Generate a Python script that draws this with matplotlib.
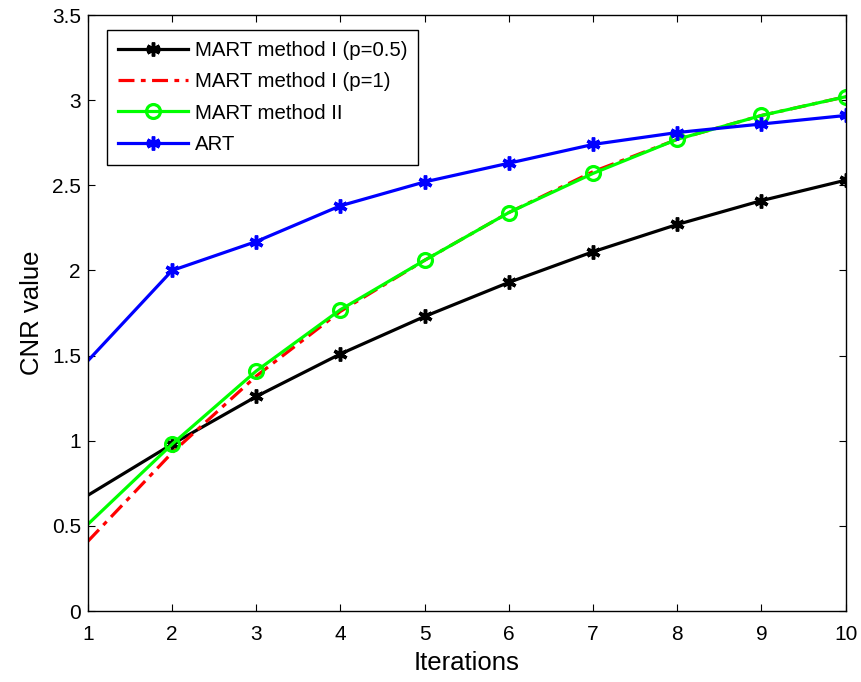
import numpy as np
import matplotlib
matplotlib.use("Agg")
import matplotlib.pyplot as plt

plt.rcParams['font.family'] = ['Liberation Sans', 'DejaVu Sans']

# =========================================================
# DATA
# =========================================================
iterations = [1, 2, 3, 4, 5, 6, 7, 8, 9, 10]

mart_I_p05 = [0.68, 0.98, 1.26, 1.51, 1.73, 1.93, 2.11, 2.27, 2.41, 2.53]
mart_I_p1 = [0.41, 0.93, 1.38, 1.76, 2.06, 2.34, 2.58, 2.77, 2.91, 3.02]
mart_II = [0.51, 0.98, 1.41, 1.77, 2.06, 2.34, 2.57, 2.77, 2.91, 3.02]
art = [1.47, 2.00, 2.17, 2.38, 2.52, 2.63, 2.74, 2.81, 2.86, 2.91]

# =========================================================
# PLOT
# =========================================================
fig = plt.figure(figsize=(8.62, 6.82), dpi=100)
ax = fig.add_axes([0.102, 0.104, 0.879, 0.874])

asterisk = (6, 2, 0)
mk_every = slice(1, None)   # no marker drawn on the axis edge at x=1
ax.plot(iterations, mart_I_p05, color='black', lw=2.3, marker=asterisk,
        ms=10, mew=2.5, markevery=mk_every, label="MART method I (p=0.5)")
ax.plot(iterations, mart_I_p1, color='red', lw=2.3, ls=(0, (5, 2, 1.5, 2)),
        label="MART method I (p=1)")
ax.plot(iterations, mart_II, color='#00ff00', lw=2.3, marker='o', ms=10,
        mfc='none', mew=2.3, markevery=mk_every, label="MART method II")
ax.plot(iterations, art, color='blue', lw=2.3, marker=asterisk,
        ms=10, mew=2.5, markevery=mk_every, label="ART")

ax.set_xlim(1, 10)
ax.set_ylim(0, 3.5)
ax.set_xticks(iterations)
ax.set_yticks(np.arange(0, 3.51, 0.5))
ax.set_yticklabels(["0", "0.5", "1", "1.5", "2", "2.5", "3", "3.5"])
ax.tick_params(direction='in', labelsize=15, length=5, top=True, right=True)
ax.tick_params(axis='x', pad=10)
ax.tick_params(axis='y', pad=5)
for s in ax.spines.values():
    s.set_linewidth(1.0)

ax.set_xlabel("Iterations", fontsize=18.5, labelpad=5)
ax.set_ylabel("CNR value", fontsize=18.5, labelpad=6)

leg = ax.legend(loc='upper left', bbox_to_anchor=(0.025, 0.975), borderaxespad=0,
                fontsize=14.7, fancybox=False, edgecolor='black', framealpha=1,
                handlelength=3.4, handletextpad=0.35, labelspacing=0.6,
                borderpad=0.55)
leg.get_frame().set_linewidth(1.0)

fig.savefig("out.png", dpi=100)
